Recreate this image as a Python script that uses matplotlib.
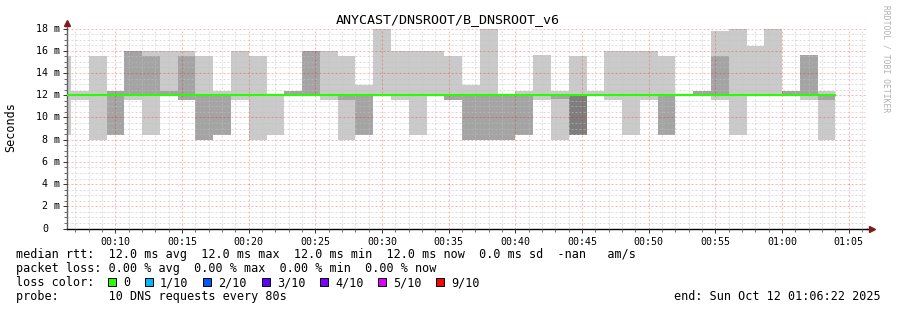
import numpy as np
import matplotlib
matplotlib.use('Agg')
import matplotlib.pyplot as plt
import matplotlib.transforms as mtransforms
from matplotlib.patches import Rectangle

W, H = 897, 310
MONO = 'DejaVu Sans Mono'

title = 'ANYCAST/DNSROOT/B_DNSROOT_v6'

# time axis (minutes after midnight), 80 s steps
view_start = 6 + 22 / 60
view_len = 60
step_start = 5 + 20 / 60
step_len = 80 / 60

# sorted pings per step (p4..p7 sit on the median)
p1 = [8.4, 11.6, 8.0, 8.4, 11.6, 8.4, 12.0, 11.6, 8.0, 8.4, 11.6, 8.0, 8.4, 12.0, 12.0,
      11.6, 8.0, 8.4, 12.0, 11.6, 8.4, 12.0, 11.6, 8.0, 8.0, 8.0, 8.4, 11.6, 8.0, 8.4,
      12.0, 11.6, 8.4, 11.6, 8.4, 12.0, 12.0, 11.6, 8.4, 12.0, 12.0, 12.0, 11.6, 8.0]
p2 = [12, 12, 12, 8.4, 12, 12, 12, 11.6, 8.0, 8.4, 12, 12, 12, 12, 12,
      12, 11.6, 8.4, 12, 12, 12, 12, 11.6, 8.0, 8.0, 8.0, 8.4, 12, 11.7, 8.4,
      12, 12, 12, 12, 8.4, 12, 12, 12, 12, 12, 12, 12, 12, 11.6]
p3 = [12] * 29 + [8.4] + [12] * 14
p8 = [12] * 44
p9 = [12, 12, 12, 12.4, 16, 15.5, 12.35, 15.5, 12, 12, 12, 12, 12, 12.4, 16,
      12, 12, 12, 12, 12, 12, 12, 12, 12, 12, 12, 12, 12, 12, 12,
      12, 12, 12, 12, 12, 12, 12.4, 15.5, 12, 12, 12, 12.4, 15.6, 12]
p10 = [15.5, 12.4, 15.5, 12.4, 16, 16, 16, 16, 15.5, 12.4, 16, 15.5, 12, 12.4, 16,
       16, 15.5, 12.9, 18, 16, 16, 16, 15.5, 12.9, 18, 12, 12.35, 15.6, 12.35, 15.5,
       12.35, 16, 16, 16, 15.5, 12, 12.4, 17.8, 18, 16.4, 18, 12.4, 15.6, 12.4]
median = [12.0] * 44

x_ticks = [10, 15, 20, 25, 30, 35, 40, 45, 50, 55, 60, 65]
x_labels = ['00:10', '00:15', '00:20', '00:25', '00:30', '00:35',
            '00:40', '00:45', '00:50', '00:55', '01:00', '01:05']
y_ticks = [0, 2, 4, 6, 8, 10, 12, 14, 16, 18]

loss_labels = ['0', '1/10', '2/10', '3/10', '4/10', '5/10', '9/10']
loss_colors = ['#26ff00', '#00b8ff', '#0059ff', '#5e00ff', '#7e00ff', '#dd00ff', '#ff0000']

legend_rows = [
    'median rtt:  12.0 ms avg  12.0 ms max  12.0 ms min  12.0 ms now  0.0 ms sd  -nan   am/s',
    'packet loss: 0.00 % avg  0.00 % max  0.00 % min  0.00 % now',
    'loss color:',
    'probe:       10 DNS requests every 80s',
]
end_text = 'end: Sun Oct 12 01:06:22 2025'

fig = plt.figure(figsize=(W / 100, H / 100), dpi=100)
fig.patch.set_facecolor('white')
ax = fig.add_axes([67 / W, 1 - 228.5 / H, 800 / W, 200 / H])

edges = step_start + step_len * np.arange(len(median) + 1)


def ext(v):
    return np.append(v, v[-1])


# smoke, outer pair first, darker towards the median
for lo, hi, col in [(p1, p10, '#cacaca'), (p2, p9, '#a4a4a4'), (p3, p8, '#7e7e7e')]:
    ax.fill_between(edges, ext(lo), ext(hi), step='post', color=col, lw=0, zorder=1)

ax.step(edges, ext(median), where='post', color=loss_colors[0], lw=1.5, zorder=3)

ax.set_xlim(view_start, view_start + view_len)
ax.set_ylim(0, 18)

ax.set_xticks(x_ticks)
ax.set_xticklabels(x_labels, fontsize=7.2, family=MONO)
ax.set_xticks(np.arange(7, 67), minor=True)
ax.set_yticks(y_ticks)
ax.set_yticklabels([])
ax.set_yticks(np.arange(0, 18.01, 0.5), minor=True)

ax.set_axisbelow(False)
ax.grid(which='minor', color='#c0c0c0', alpha=0.55, lw=0.72, ls=(0, (2, 2)))
ax.grid(which='major', color='#ff0000', alpha=0.3, lw=0.72, ls=(0, (2, 2)))
ax.tick_params(which='major', length=3, width=0.7, pad=3, color='#333333')
ax.tick_params(which='minor', length=2, width=0.6, color='#555555')
ax.tick_params(axis='y', which='both', labelleft=False)

for s in ['top', 'right']:
    ax.spines[s].set_visible(False)
ax.spines['left'].set_color('#606060')
ax.spines['bottom'].set_color('black')
ax.spines['left'].set_linewidth(1)
ax.spines['bottom'].set_linewidth(1)

# axis arrows
arrow_col = '#7f1a1a'
ax.plot([0, 0], [1, 1.025], color='#606060', lw=1, transform=ax.transAxes, clip_on=False)
ax.plot([0], [1.03], marker='^', ms=4, color=arrow_col, transform=ax.transAxes, clip_on=False)
ax.plot([1, 1.004], [0, 0], color='black', lw=1, transform=ax.transAxes, clip_on=False)
ax.plot([1.006], [0], marker='>', ms=4, color=arrow_col, transform=ax.transAxes, clip_on=False)

# y tick labels, rrdtool style
ytrans = mtransforms.blended_transform_factory(ax.transAxes, ax.transData)
for v in y_ticks:
    if v:
        lab, dx = '%d m' % v, -7
    else:
        lab, dx = '0', -19
    ax.text(0, v, lab, ha='right', va='center', fontsize=7.2, family=MONO,
            transform=mtransforms.offset_copy(ytrans, fig=fig, x=dx, y=0, units='dots'))

fig.text(448 / W, 1 - 20 / H, title, ha='center', va='center', fontsize=9.6, family=MONO)
fig.text(11 / W, 1 - 127 / H, 'Seconds', rotation=90, ha='center', va='center',
         fontsize=8.5, family=MONO)
fig.text(886 / W, 1 - 5 / H, 'RRDTOOL / TOBI OETIKER', rotation=-90, ha='center', va='top',
         fontsize=5.8, family=MONO, color='#b0b0b0')

row_y = [254.5, 268.5, 282.5, 296.5]
for txt, y in zip(legend_rows, row_y):
    fig.text(16 / W, 1 - y / H, txt, ha='left', va='center', fontsize=8.5, family=MONO)
fig.text(881 / W, 1 - 296.5 / H, end_text, ha='right', va='center', fontsize=8.5, family=MONO)

box_x = [108, 145, 203, 262, 320, 378, 436]
for bx, lab, col in zip(box_x, loss_labels, loss_colors):
    fig.add_artist(Rectangle((bx / W, 1 - 286 / H), 8 / W, 8 / H, transform=fig.transFigure,
                             facecolor=col, edgecolor='black', lw=0.7))
    fig.text((bx + 15) / W, 1 - 282.5 / H, lab, ha='left', va='center', fontsize=8.5, family=MONO)

fig.savefig('out.png', dpi=100)
